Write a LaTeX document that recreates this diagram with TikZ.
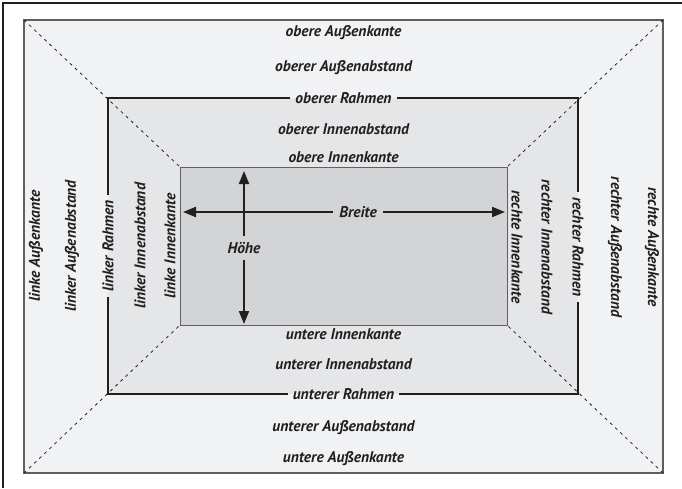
\documentclass[tikz,border=0pt]{standalone}
\usepackage{fontspec}
\setmainfont{PT Sans}
\usepackage{xcolor}
\usepackage{tikz}
\usetikzlibrary{arrows.meta}
\definecolor{marginfill}{RGB}{241, 242, 244}
\definecolor{paddingfill}{RGB}{229, 230, 232}
\definecolor{contentfill}{RGB}{211, 212, 214}
\definecolor{edgegray}{RGB}{95, 95, 98}
\definecolor{textdark}{RGB}{35, 31, 32}

\begin{document}
\begin{tikzpicture}[
        x=1pt, y=-1pt,
        marginbox/.style={rectangle, fill=marginfill, draw=edgegray, line width=1.2pt, minimum width=639pt, minimum height=453pt, inner sep=0pt, outer sep=0pt},
        borderbox/.style={rectangle, fill=paddingfill, minimum width=470pt, minimum height=296pt, inner sep=0pt, outer sep=0pt},
        contentbox/.style={rectangle, fill=contentfill, draw=edgegray, line width=1pt, minimum width=327pt, minimum height=158pt, inner sep=0pt, outer sep=0pt},
        lbl/.style={font=\fontsize{15.5}{17}\selectfont\bfseries\itshape, text=textdark, inner sep=1pt},
        rahmenlbl/.style={lbl, inner xsep=5pt},
        dimlbl/.style={lbl, inner sep=6pt},
        rahmenline/.style={line width=2pt, color=textdark},
        diagline/.style={dash pattern=on 3pt off 4pt, line width=0.8pt, color=textdark},
        dimarrow/.style={-{Triangle[length=13pt, width=10pt]}, line width=2pt, color=textdark}
    ]
    \useasboundingbox (0,0) rectangle (682,488);

    % Frame
    \draw[line width=1.5pt, textdark] (3,488) -- (3,3) -- (682,3);

    % Boxes
    \node[marginbox] (margin) at (343.5, 246.5) {};
    \node[borderbox] (border) at (343, 246) {};
    \node[contentbox] (content) at (343.5, 246) {};

    % Diagonals
    \draw[diagline] (margin.north west) -- (content.north west);
    \draw[diagline] (margin.north east) -- (content.north east);
    \draw[diagline] (margin.south west) -- (content.south west);
    \draw[diagline] (margin.south east) -- (content.south east);

    % Top labels
    \node[lbl] (top_outer) at (343.5, 33) {obere Außenkante};
    \node[lbl] (top_margin) at (343.5, 68) {oberer Außenabstand};
    \node[rahmenlbl] (top_rahmen) at (343.5, 98) {oberer Rahmen};
    \node[lbl] (top_padding) at (343.5, 129) {oberer Innenabstand};
    \node[lbl] (top_inner) at (343.5, 157) {obere Innenkante};

    % Bottom labels
    \node[lbl] (bot_inner) at (343.5, 334) {untere Innenkante};
    \node[lbl] (bot_padding) at (343.5, 364) {unterer Innenabstand};
    \node[rahmenlbl] (bot_rahmen) at (343.5, 394) {unterer Rahmen};
    \node[lbl] (bot_margin) at (343.5, 428) {unterer Außenabstand};
    \node[lbl] (bot_outer) at (343.5, 459) {untere Außenkante};

    % Left labels
    \node[lbl, rotate=90] (left_outer) at (36, 246) {linke Außenkante};
    \node[lbl, rotate=90] (left_margin) at (72, 246) {linker Außenabstand};
    \node[rahmenlbl, rotate=90] (left_rahmen) at (108, 246) {linker Rahmen};
    \node[lbl, rotate=90] (left_padding) at (140, 246) {linker Innenabstand};
    \node[lbl, rotate=90] (left_inner) at (170, 246) {linke Innenkante};

    % Right labels
    \node[lbl, rotate=-90] (right_inner) at (517, 247) {rechte Innenkante};
    \node[lbl, rotate=-90] (right_padding) at (547, 247) {rechter Innenabstand};
    \node[rahmenlbl, rotate=-90] (right_rahmen) at (578, 247) {rechter Rahmen};
    \node[lbl, rotate=-90] (right_margin) at (615, 247) {rechter Außenabstand};
    \node[lbl, rotate=-90] (right_outer) at (652, 247) {rechte Außenkante};

    % Border line, broken at its labels
    \draw[rahmenline] (top_rahmen.west) -- (border.north west) -- (left_rahmen.east);
    \draw[rahmenline] (left_rahmen.west) -- (border.south west) -- (bot_rahmen.west);
    \draw[rahmenline] (bot_rahmen.east) -- (border.south east) -- (right_rahmen.east);
    \draw[rahmenline] (right_rahmen.west) -- (border.north east) -- (top_rahmen.east);

    % Width and height
    \node[dimlbl] (breite) at (358, 212) {Breite};
    \coordinate (breite_l) at (183, 212);
    \coordinate (breite_r) at (505, 212);
    \draw[dimarrow] (breite) -- (breite_l);
    \draw[dimarrow] (breite) -- (breite_r);

    \node[dimlbl] (hoehe) at (244, 248) {Höhe};
    \coordinate (hoehe_t) at (244, 171);
    \coordinate (hoehe_b) at (244, 324);
    \draw[dimarrow] (hoehe) -- (hoehe_t);
    \draw[dimarrow] (hoehe) -- (hoehe_b);

\end{tikzpicture}
\end{document}
